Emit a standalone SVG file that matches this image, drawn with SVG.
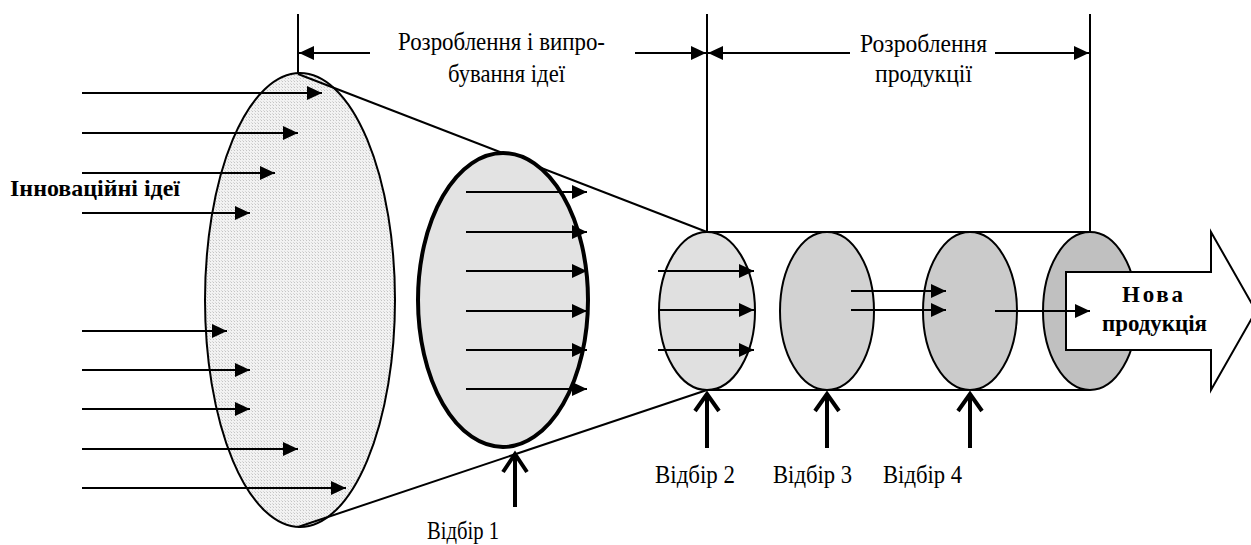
<svg xmlns="http://www.w3.org/2000/svg" width="1251" height="545" viewBox="0 0 1251 545">
<style>
.ln{stroke:#000;stroke-width:2;fill:none}
.ar{stroke:#000;stroke-width:2;fill:none;marker-end:url(#tri)}
.sel{stroke:#000;stroke-width:4;fill:none}
.t{font-family:"Liberation Serif","Times New Roman",serif;font-size:26px;fill:#000}
.s{font-family:"Liberation Serif","Times New Roman",serif;font-size:25px;fill:#000}
.b{font-family:"Liberation Serif","Times New Roman",serif;font-size:23px;font-weight:bold;fill:#000}
</style>
<defs>
<marker id="tri" markerUnits="userSpaceOnUse" markerWidth="16" markerHeight="14" refX="15" refY="7" orient="auto">
<path d="M0,0 L15,7 L0,14 z" fill="#000"/>
</marker>
<pattern id="dots" width="3" height="3" patternUnits="userSpaceOnUse">
<rect width="3" height="3" fill="#f2f2f2"/>
<rect width="1" height="1" fill="#c4c4c4"/>
<rect x="2" y="2" width="1" height="1" fill="#d8d8d8"/>
</pattern>
</defs>
<rect width="1251" height="545" fill="#fff"/>

<g id="big-ellipse">
<ellipse cx="300" cy="300" rx="95" ry="227" fill="url(#dots)" stroke="#000" stroke-width="2"/>
</g>

<g id="funnel">
<line class="ln" x1="298" y1="74" x2="707" y2="232"/>
<line class="ln" x1="298" y1="527" x2="707" y2="390"/>
</g>

<g id="ellipse-2">
<ellipse cx="503" cy="300" rx="85" ry="147" fill="#e3e3e3" stroke="#000" stroke-width="4"/>
</g>

<g id="cylinder">
<line class="ln" x1="707" y1="232" x2="1090" y2="232"/>
<line class="ln" x1="707" y1="390" x2="1090" y2="390"/>
</g>

<g id="sel-ellipse-2">
<ellipse cx="707" cy="311" rx="48" ry="79" fill="#e0e0e0" stroke="#000" stroke-width="2"/>
</g>
<g id="sel-ellipse-3">
<ellipse cx="827" cy="311" rx="47" ry="79" fill="#d2d2d2" stroke="#000" stroke-width="2"/>
</g>
<g id="sel-ellipse-4">
<ellipse cx="970" cy="311" rx="47" ry="79" fill="#cbcbcb" stroke="#000" stroke-width="2"/>
</g>
<g id="sel-ellipse-5">
<ellipse cx="1090" cy="311" rx="47" ry="79" fill="#c0c0c0" stroke="#000" stroke-width="2"/>
</g>

<g id="new-product">
<path d="M1066,272 L1211,272 L1211,232 L1256,311 L1211,390 L1211,350 L1066,350 z" fill="#fff" stroke="#000" stroke-width="2"/>
<text class="b" x="1122" y="302" textLength="61" lengthAdjust="spacing">Нова</text>
<text class="b" x="1102" y="331" textLength="105" lengthAdjust="spacingAndGlyphs">продукція</text>
</g>

<g id="innovation-label">
<text class="b" x="10" y="196" font-size="27" textLength="170" lengthAdjust="spacingAndGlyphs">Інноваційні ідеї</text>
</g>

<g id="connectors">
<line class="ar" x1="82" y1="93" x2="322" y2="93"/>
<line class="ar" x1="82" y1="133" x2="298" y2="133"/>
<line class="ar" x1="82" y1="173" x2="275" y2="173"/>
<line class="ar" x1="82" y1="213" x2="250" y2="213"/>
<line class="ar" x1="82" y1="331" x2="227" y2="331"/>
<line class="ar" x1="82" y1="370" x2="250" y2="370"/>
<line class="ar" x1="82" y1="409" x2="250" y2="409"/>
<line class="ar" x1="82" y1="449" x2="298" y2="449"/>
<line class="ar" x1="82" y1="488" x2="346" y2="488"/>

<line class="ar" x1="466" y1="192" x2="587" y2="192"/>
<line class="ar" x1="466" y1="232" x2="587" y2="232"/>
<line class="ar" x1="466" y1="271" x2="587" y2="271"/>
<line class="ar" x1="466" y1="311" x2="587" y2="311"/>
<line class="ar" x1="466" y1="350" x2="587" y2="350"/>
<line class="ar" x1="466" y1="389" x2="587" y2="389"/>

<line class="ar" x1="658" y1="271" x2="754" y2="271"/>
<line class="ar" x1="658" y1="310" x2="754" y2="310"/>
<line class="ar" x1="658" y1="350" x2="754" y2="350"/>
<line class="ar" x1="851" y1="291" x2="946" y2="291"/>
<line class="ar" x1="851" y1="310" x2="946" y2="310"/>
<line class="ar" x1="995" y1="311" x2="1090" y2="311"/>

<line class="ln" x1="298" y1="14" x2="298" y2="74"/>
<line class="ln" x1="707" y1="14" x2="707" y2="232"/>
<line class="ln" x1="1090" y1="14" x2="1090" y2="232"/>
<line class="ar" x1="370" y1="53" x2="299" y2="53"/>
<line class="ar" x1="635" y1="53" x2="706" y2="53"/>
<line class="ar" x1="850" y1="53" x2="708" y2="53"/>
<line class="ar" x1="995" y1="53" x2="1089" y2="53"/>

<path class="sel" d="M515,507 L515,454 M503,472 L515,454 L527,472"/>
<path class="sel" d="M707,448 L707,394 M695,411 L707,394 L719,411"/>
<path class="sel" d="M827,448 L827,394 M815,411 L827,394 L839,411"/>
<path class="sel" d="M970,448 L970,394 M958,411 L970,394 L982,411"/>
</g>

<g id="labels">
<text class="t" x="398" y="50" textLength="207" lengthAdjust="spacingAndGlyphs">Розроблення і випро-</text>
<text class="t" x="448" y="82" textLength="117" lengthAdjust="spacingAndGlyphs">бування ідеї</text>
<text class="t" x="860" y="52" textLength="127" lengthAdjust="spacingAndGlyphs">Розроблення</text>
<text class="t" x="875" y="82" textLength="97" lengthAdjust="spacingAndGlyphs">продукції</text>
<text class="s" x="427" y="539" textLength="72" lengthAdjust="spacingAndGlyphs">Відбір 1</text>
<text class="s" x="655" y="483" textLength="80" lengthAdjust="spacingAndGlyphs">Відбір 2</text>
<text class="s" x="773" y="483" textLength="79" lengthAdjust="spacingAndGlyphs">Відбір 3</text>
<text class="s" x="883" y="483" textLength="79" lengthAdjust="spacingAndGlyphs">Відбір 4</text>
</g>
</svg>
